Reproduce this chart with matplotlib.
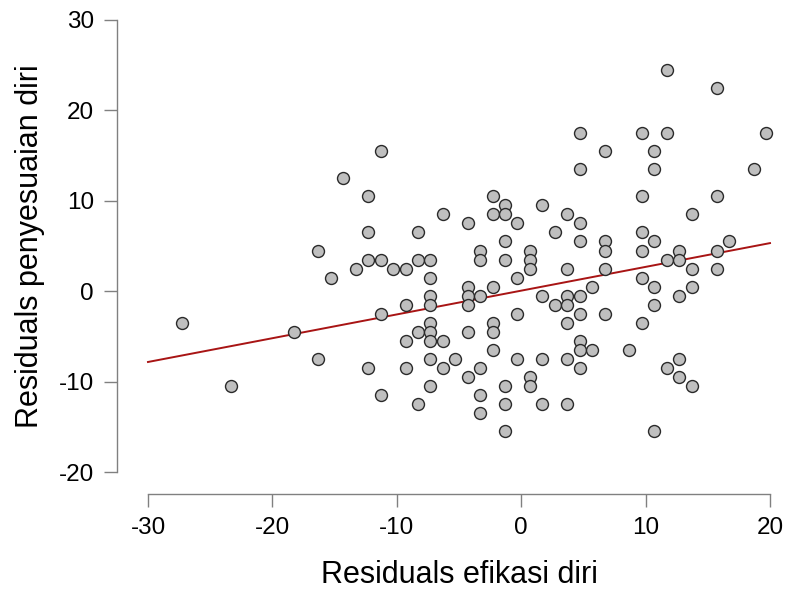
import matplotlib
matplotlib.use("Agg")
import matplotlib.pyplot as plt
import numpy as np

plt.rcParams['font.family'] = ['Liberation Sans', 'DejaVu Sans']

# Residual pairs (efikasi diri, penyesuaian diri)
x_vals = [
    -14.3, -12.3, -2.3, -1.3, 1.7, -6.3, -2.3, -1.3, -4.3, -0.3,
    -12.3, -8.3, 2.7, -1.3, -3.3, 0.7, -12.3, -11.3, -8.3, -7.3,
    -3.3, -1.3, 0.7, -13.3, -10.3, -9.3, 0.7, -7.3, -0.3, -4.3,
    -2.3, -7.3, -4.3, -3.3, 1.7, -9.3, -7.3, -4.3, 2.7, -11.3,
    -0.3, -7.3, -2.3, -8.3, -7.3, -4.3, -2.3, -9.3, -7.3, -6.3,
    -2.3, -7.3, -5.3, -0.3, 1.7, -12.3, -9.3, -6.3, -3.3, -4.3,
    0.7, -7.3, -1.3, 0.7, -11.3, -3.3, -8.3, -1.3, 1.7, -3.3,
    -1.3,
    11.7, 15.7, 4.7, 9.7, 11.7, 19.7, 6.7, 10.7, 4.7, 10.7,
    18.7, 9.7, 15.7, 3.7, 13.7, 4.7, 9.7, 4.7, 6.7, 10.7,
    16.7, 6.7, 9.7, 12.7, 15.7, 11.7, 12.7, 3.7, 6.7, 13.7,
    15.7, 9.7, 5.7, 10.7, 13.7, 3.7, 4.7, 12.7, 3.7, 10.7,
    4.7, 6.7, 3.7, 9.7, 4.7, 4.7, 5.7, 8.7, 3.7, 12.7,
    4.7, 11.7, 12.7, 13.7, 3.7, 10.7,
    -16.3, -15.3, -27.3, -18.3, -16.3, -23.3, -11.3,
]
y_vals = [
    12.5, 10.5, 10.5, 9.5, 9.5, 8.5, 8.5, 8.5, 7.5, 7.5,
    6.5, 6.5, 6.5, 5.5, 4.5, 4.5, 3.5, 3.5, 3.5, 3.5,
    3.5, 3.5, 3.5, 2.5, 2.5, 2.5, 2.5, 1.5, 1.5, 0.5,
    0.5, -0.5, -0.5, -0.5, -0.5, -1.5, -1.5, -1.5, -1.5, -2.5,
    -2.5, -3.5, -3.5, -4.5, -4.5, -4.5, -4.5, -5.5, -5.5, -5.5,
    -6.5, -7.5, -7.5, -7.5, -7.5, -8.5, -8.5, -8.5, -8.5, -9.5,
    -9.5, -10.5, -10.5, -10.5, -11.5, -11.5, -12.5, -12.5, -12.5, -13.5,
    -15.5,
    24.5, 22.5, 17.5, 17.5, 17.5, 17.5, 15.5, 15.5, 13.5, 13.5,
    13.5, 10.5, 10.5, 8.5, 8.5, 7.5, 6.5, 5.5, 5.5, 5.5,
    5.5, 4.5, 4.5, 4.5, 4.5, 3.5, 3.5, 2.5, 2.5, 2.5,
    2.5, 1.5, 0.5, 0.5, 0.5, -0.5, -0.5, -0.5, -1.5, -1.5,
    -2.5, -2.5, -3.5, -3.5, -5.5, -6.5, -6.5, -6.5, -7.5, -7.5,
    -8.5, -8.5, -9.5, -10.5, -12.5, -15.5,
    4.5, 1.5, -3.5, -4.5, -7.5, -10.5, 15.5,
]

x_ticks = [-30, -20, -10, 0, 10, 20]
y_ticks = [-20, -10, 0, 10, 20, 30]

# fitted regression line
fit_intercept = 0.06
fit_slope = 0.263
line_x = [-30, 20]

x_label = "Residuals efikasi diri"
y_label = "Residuals penyesuaian diri"

fig = plt.figure(figsize=(7.87, 5.90), dpi=100)
ax = fig.add_axes([148/787, 1 - 472/590, (770 - 148)/787, (472 - 20)/590])

lx = np.array(line_x, dtype=float)
ax.plot(lx, fit_intercept + fit_slope * lx, color="#a81414", lw=1.4, zorder=2,
        clip_on=False)
ax.scatter(x_vals, y_vals, s=74, facecolor="#bfbfbf", edgecolor="#2a2a2a",
           linewidths=1.0, zorder=3, clip_on=False)

ax.set_xlim(-30, 20)
ax.set_ylim(-20, 30)
ax.set_xticks(x_ticks)
ax.set_yticks(y_ticks)
ax.set_xticklabels([str(t) for t in x_ticks])
ax.set_yticklabels([str(t) for t in y_ticks])

for side in ("top", "right"):
    ax.spines[side].set_visible(False)
ax.spines["left"].set_position(("outward", 22.5))
ax.spines["bottom"].set_position(("outward", 16))
ax.spines["left"].set_bounds(-20, 30)
ax.spines["bottom"].set_bounds(-30, 20)
for side in ("left", "bottom"):
    ax.spines[side].set_color("#808080")
    ax.spines[side].set_linewidth(1.0)

ax.tick_params(axis="both", which="major", length=9.5, width=1.0,
               color="#808080", labelsize=17.5, labelcolor="black", pad=7)

ax.set_xlabel(x_label, fontsize=22, labelpad=15)
ax.set_ylabel(y_label, fontsize=22, labelpad=9.5)

fig.savefig("out.png", dpi=100)
